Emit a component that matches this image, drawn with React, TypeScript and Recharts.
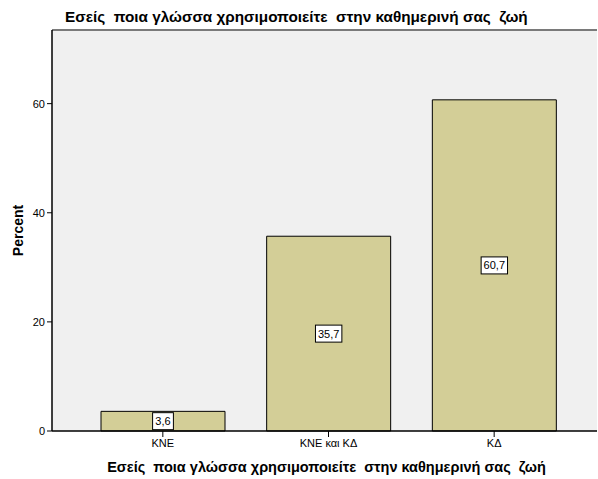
import { BarChart, Bar, XAxis, YAxis, CartesianGrid, LabelList, ReferenceLine } from "recharts";

const categories = ["KNE", "KNE και KΔ", "KΔ"];
const percents = [3.6, 35.7, 60.7];
const yTicks = [0, 20, 40, 60];

const title = "Εσείς  ποια γλώσσα χρησιμοποιείτε  στην καθημερινή σας  ζωή";

const chartData = categories.map((name, i) => ({ name, percent: percents[i] }));

const font = "'Liberation Sans', Arial, sans-serif";

function ValueBox(props: any) {
  const { x, y, width, height, value } = props;
  const cx = x + width / 2;
  const cy = y + height / 2;
  const text = String(value).replace(".", ",");
  const w = text.length * 5.6 + 4;
  const h = 17;
  return (
    <g>
      <rect x={cx - w / 2} y={cy - h / 2} width={w} height={h} fill="#ffffff" stroke="#000000" strokeWidth={1} />
      <text x={cx} y={cy + 4} textAnchor="middle" fontSize={11} fontFamily={font} fill="#000000">
        {text}
      </text>
    </g>
  );
}

function XTitle(props: any) {
  const { viewBox } = props;
  const cx = viewBox.x + viewBox.width / 2;
  return (
    <text
      x={cx + 2}
      y={472}
      textAnchor="middle"
      fontSize={14.5}
      fontWeight="bold"
      fontFamily={font}
      fill="#000"
      style={{ whiteSpace: "pre" }}
    >
      {title}
    </text>
  );
}

export default function App() {
  return (
    <div style={{ position: "absolute", left: 0, top: 0, width: 598, height: 479, background: "#ffffff", fontFamily: font }}>
      <div
        style={{
          position: "absolute",
          left: 65,
          top: 8,
          fontSize: 15.3,
          fontWeight: "bold",
          whiteSpace: "pre",
          color: "#000",
        }}
      >
        {title}
      </div>
      <BarChart
        width={598}
        height={479}
        data={chartData}
        margin={{ top: 30, right: 1, bottom: 18, left: 0 }}
        barSize={124}
      >
        <CartesianGrid fill="#f0f0f0" horizontal={false} vertical={false} />
        <ReferenceLine y={73.5} stroke="#7a7a7a" strokeWidth={2} ifOverflow="extendDomain" />
        <XAxis
          dataKey="name"
          height={30}
          padding={{ left: 28, right: 20 }}
          tick={{ fontSize: 11, fill: "#000", fontFamily: font }}
          tickLine={{ stroke: "#000" }}
          tickSize={6}
          axisLine={{ stroke: "#000", strokeWidth: 1.5 }}
          interval={0}
          label={<XTitle />}
        />
        <YAxis
          width={52}
          domain={[0, 73.5]}
          ticks={yTicks}
          tick={{ fontSize: 11, fill: "#000", fontFamily: font }}
          tickLine={{ stroke: "#000" }}
          tickSize={5}
          axisLine={{ stroke: "#000", strokeWidth: 1.5 }}
          label={{
            value: "Percent",
            angle: -90,
            position: "insideLeft",
            offset: 18,
            style: { fontSize: 14, fontWeight: "bold", fill: "#000", fontFamily: font, textAnchor: "middle" },
          }}
        />
        <Bar dataKey="percent" fill="#d3ce97" stroke="#000" strokeWidth={1} isAnimationActive={false}>
          <LabelList dataKey="percent" content={<ValueBox />} />
        </Bar>
      </BarChart>
    </div>
  );
}
